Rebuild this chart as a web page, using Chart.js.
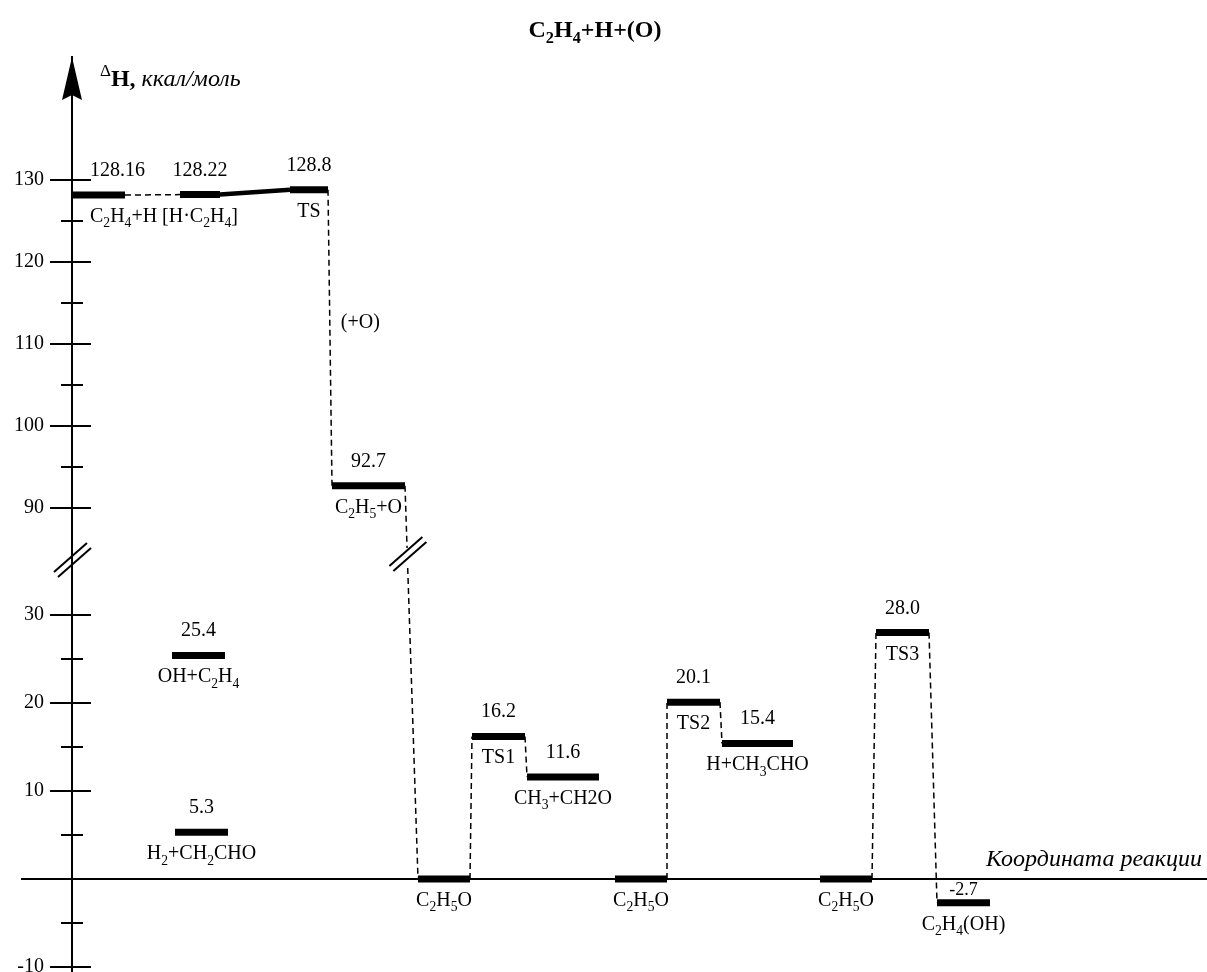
<!DOCTYPE html>
<html>
<head>
<meta charset="utf-8">
<title>C2H4+H+(O)</title>
<script src="https://cdn.jsdelivr.net/npm/chart.js@4/dist/chart.umd.min.js"></script>
<style>
  html, body { margin: 0; padding: 0; background: #fff; }
  canvas { display: block; }
</style>
</head>
<body>
<canvas id="diagram" width="1207" height="972"></canvas>
<script>
// Enthalpy levels along the C2H4 + H (+O) reaction path, kcal/mol.
// In the species names "_" puts the next character in subscript.
const levelNames = ['C_2H_4+H', '[H·C_2H_4]', 'TS', 'C_2H_5+O', 'C_2H_5O', 'TS1', 'CH_3+CH2O',
                    'C_2H_5O', 'TS2', 'H+CH_3CHO', 'C_2H_5O', 'TS3', 'C_2H_4(OH)', 'OH+C_2H_4', 'H_2+CH_2CHO'];
const levelEnergies = [128.16, 128.22, 128.8, 92.7, 0, 16.2, 11.6, 0, 20.1, 15.4, 0, 28.0, -2.7, 25.4, 5.3];
const levelValueText = ['128.16', '128.22', '128.8', '92.7', '', '16.2', '11.6', '', '20.1', '15.4', '', '28.0', '-2.7', '25.4', '5.3'];
// Extent of every level along the reaction coordinate (arbitrary units)
const levelStart = [0, 10.8, 21.8, 26.0, 34.6, 40.0, 45.5, 54.3, 59.5, 65.0, 74.8, 80.4, 86.5, 10.0, 10.3];
const levelEnd   = [5.3, 14.8, 25.6, 33.3, 39.8, 45.3, 52.7, 59.5, 64.8, 72.1, 80.0, 85.7, 91.8, 15.3, 15.6];

// Transitions between levels: from the end of one level to the start of the next
const pathFrom = [0, 1, 2, 3, 4, 5, 7, 8, 10, 11];
const pathTo   = [1, 2, 3, 4, 5, 6, 8, 9, 11, 12];
const pathKind = ['dash', 'solid', 'dash', 'dash', 'dash', 'dash', 'dash', 'dash', 'dash', 'dash'];
const pathNote = ['', '', '(+O)', '', '', '', '', '', '', ''];

// Broken enthalpy axis: an upper and a lower panel
const upperRange = [83.9, 145.0];
const lowerRange = [-10.57, 36.48];
const upperMajorTicks = [90, 100, 110, 120, 130];
const upperMinorTicks = [95, 105, 115, 125];
const lowerMajorTicks = [-10, 10, 20, 30];
const lowerMinorTicks = [-5, 5, 15, 25];
const reactionRange = [0, 113.5];

const titleText = 'C_2H_4+H+(O)';
const axisTitleParts = ['Δ', 'H,', ' ккал/моль'];
const reactionAxisText = 'Координата реакции';

const SERIF = '"Liberation Serif", "Times New Roman", serif';
const SUB_SCALE = 0.68;
const SUB_DROP = 0.26;

const panelOf = e => (e >= 60 ? 'yUp' : 'yLow');

function fontSpec(size, weight, style) {
  return (style || 'normal') + ' ' + (weight || 'normal') + ' ' + size + 'px ' + SERIF;
}

function parseRich(str) {
  const runs = [];
  for (let i = 0; i < str.length; i++) {
    if (str[i] === '_' && i + 1 < str.length) {
      runs.push({ t: str[i + 1], sub: true });
      i++;
    } else if (runs.length && !runs[runs.length - 1].sub) {
      runs[runs.length - 1].t += str[i];
    } else {
      runs.push({ t: str[i], sub: false });
    }
  }
  return runs;
}

function richWidth(ctx, str, o) {
  let w = 0;
  for (const r of parseRich(str)) {
    ctx.font = fontSpec(r.sub ? o.size * SUB_SCALE : o.size, o.weight, o.style);
    w += ctx.measureText(r.t).width;
  }
  return w;
}

function drawRich(ctx, str, x, y, o) {
  const w = richWidth(ctx, str, o);
  let cx = o.align === 'left' ? x : (o.align === 'right' ? x - w : x - w / 2);
  ctx.textAlign = 'left';
  ctx.textBaseline = o.baseline || 'alphabetic';
  ctx.fillStyle = '#000';
  for (const r of parseRich(str)) {
    const size = r.sub ? o.size * SUB_SCALE : o.size;
    ctx.font = fontSpec(size, o.weight, o.style);
    ctx.fillText(r.t, cx, r.sub ? y + o.size * SUB_DROP : y);
    cx += ctx.measureText(r.t).width;
  }
  return w;
}

function strokeLine(ctx, x1, y1, x2, y2) {
  ctx.beginPath();
  ctx.moveTo(x1, y1);
  ctx.lineTo(x2, y2);
  ctx.stroke();
}

// Double slash marking a break of the scale
function drawBreak(ctx, cx, cy) {
  ctx.save();
  ctx.setLineDash([]);
  ctx.lineWidth = 2;
  ctx.strokeStyle = '#000';
  strokeLine(ctx, cx - 18, cy + 12, cx + 15, cy - 17);
  strokeLine(ctx, cx - 14, cy + 17, cx + 19, cy - 12);
  ctx.restore();
}

function levelEndPx(chart, i, atEnd) {
  const xs = chart.scales.x;
  const ys = chart.scales[panelOf(levelEnergies[i])];
  return {
    x: xs.getPixelForValue(atEnd ? levelEnd[i] : levelStart[i]),
    y: ys.getPixelForValue(levelEnergies[i])
  };
}

const lerp = (a, b, u) => ({ x: a.x + (b.x - a.x) * u, y: a.y + (b.y - a.y) * u });

const diagramPlugin = {
  id: 'energyDiagram',
  beforeDatasetsDraw(chart) {
    const ctx = chart.ctx;
    const up = chart.scales.yUp;
    const low = chart.scales.yLow;
    ctx.save();
    ctx.strokeStyle = '#000';

    // reaction coordinate axis at ΔH = 0
    const y0 = low.getPixelForValue(0);
    ctx.lineWidth = 2;
    strokeLine(ctx, 21, y0, chart.width, y0);

    pathFrom.forEach((f, k) => {
      const t = pathTo[k];
      const a = levelEndPx(chart, f, true);
      const b = levelEndPx(chart, t, false);
      if (pathKind[k] === 'solid') {
        ctx.setLineDash([]);
        ctx.lineWidth = 4.5;
        ctx.lineCap = 'butt';
        strokeLine(ctx, a.x, a.y, b.x, b.y);
        return;
      }
      ctx.setLineDash([6, 4]);
      ctx.lineWidth = 1.5;
      if (panelOf(levelEnergies[f]) !== panelOf(levelEnergies[t])) {
        const by = up.bottom;
        const u = (by - a.y) / (b.y - a.y);
        const gap = 10 / (b.y - a.y);
        const p1 = lerp(a, b, u - gap);
        const p2 = lerp(a, b, u + gap);
        strokeLine(ctx, a.x, a.y, p1.x, p1.y);
        strokeLine(ctx, p2.x, p2.y, b.x, b.y);
        const m = lerp(a, b, u);
        drawBreak(ctx, m.x, m.y - 4);
      } else {
        strokeLine(ctx, a.x, a.y, b.x, b.y);
      }
    });
    ctx.restore();
  },
  afterDraw(chart) {
    const ctx = chart.ctx;
    const up = chart.scales.yUp;
    const low = chart.scales.yLow;
    const axisX = up.right;
    const top = chart.chartArea.top;
    ctx.save();
    ctx.strokeStyle = '#000';
    ctx.fillStyle = '#000';
    ctx.setLineDash([]);

    // tick marks crossing the enthalpy axis
    ctx.lineWidth = 2;
    const marks = (scale, values, left, right) => values.forEach(v => {
      const y = scale.getPixelForValue(v);
      strokeLine(ctx, axisX - left, y, axisX + right, y);
    });
    marks(up, upperMajorTicks, 22, 19);
    marks(low, lowerMajorTicks, 22, 19);
    marks(up, upperMinorTicks, 11, 11);
    marks(low, lowerMinorTicks, 11, 11);

    // arrow head on the enthalpy axis
    ctx.beginPath();
    ctx.moveTo(axisX, top);
    ctx.lineTo(axisX + 10, top + 43);
    ctx.lineTo(axisX, top + 38);
    ctx.lineTo(axisX - 10, top + 43);
    ctx.closePath();
    ctx.fill();

    // break of the enthalpy axis
    drawBreak(ctx, axisX, up.bottom + 2);

    // value and species labels of every level
    const y0 = low.getPixelForValue(0);
    const minLeft = axisX + 18;
    levelEnergies.forEach((e, i) => {
      const a = levelEndPx(chart, i, false);
      const b = levelEndPx(chart, i, true);
      const cx = (a.x + b.x) / 2;
      const barY = a.y;
      if (levelValueText[i]) {
        let size = 20;
        let base = barY - 19;
        if (base > y0 - 2 && base - 14 < y0 + 2) {
          size = 18;
          base = y0 + 16;
        }
        const w = richWidth(ctx, levelValueText[i], { size });
        drawRich(ctx, levelValueText[i], Math.max(cx, minLeft + w / 2), base, { size });
      }
      const wn = richWidth(ctx, levelNames[i], { size: 20 });
      drawRich(ctx, levelNames[i], Math.max(cx, minLeft + wn / 2), barY + 27, { size: 20 });
    });

    // notes beside the transitions
    pathFrom.forEach((f, k) => {
      if (!pathNote[k]) return;
      const p = lerp(levelEndPx(chart, f, true), levelEndPx(chart, pathTo[k], false), 0.45);
      drawRich(ctx, pathNote[k], p.x + 11, p.y, { size: 20, align: 'left', baseline: 'middle' });
    });

    // chart title
    drawRich(ctx, titleText, 595, 37, { size: 24, weight: 'bold' });

    // enthalpy axis title
    let tx = axisX + 28;
    ctx.textAlign = 'left';
    ctx.textBaseline = 'alphabetic';
    ctx.font = fontSpec(17);
    ctx.fillText(axisTitleParts[0], tx, 76);
    tx += ctx.measureText(axisTitleParts[0]).width;
    ctx.font = fontSpec(24, 'bold');
    ctx.fillText(axisTitleParts[1], tx, 86);
    tx += ctx.measureText(axisTitleParts[1]).width;
    ctx.font = fontSpec(24, 'normal', 'italic');
    ctx.fillText(axisTitleParts[2], tx, 86);

    // reaction coordinate title
    ctx.font = fontSpec(24, 'normal', 'italic');
    ctx.textAlign = 'right';
    ctx.fillText(reactionAxisText, 1202, y0 - 13);

    ctx.restore();
  }
};

const datasets = levelEnergies.map((e, i) => ({
  label: levelNames[i].replace(/_/g, ''),
  data: [{ x: levelStart[i], y: e }, { x: levelEnd[i], y: e }],
  xAxisID: 'x',
  yAxisID: panelOf(e),
  borderColor: '#000',
  borderWidth: 7,
  borderCapStyle: 'butt',
  pointRadius: 0,
  pointHoverRadius: 0,
  fill: false,
  tension: 0
}));

function enthalpyAxis(range, majorTicks, weight) {
  return {
    type: 'linear',
    position: 'left',
    stack: 'enthalpy',
    stackWeight: weight,
    min: range[0],
    max: range[1],
    grid: { display: false, drawTicks: false },
    border: { display: true, color: '#000', width: 2 },
    ticks: {
      autoSkip: false,
      padding: 28,
      color: '#000',
      font: { family: SERIF, size: 20 },
      callback: v => String(v)
    },
    afterBuildTicks: s => { s.ticks = majorTicks.map(v => ({ value: v })); },
    afterFit: s => {
      s.width = 72;
      s.paddingTop = 0;
      s.paddingBottom = 0;
    }
  };
}

new Chart(document.getElementById('diagram'), {
  type: 'line',
  data: { datasets },
  options: {
    responsive: false,
    animation: false,
    events: [],
    layout: { padding: { top: 57, left: 0, right: 0, bottom: 0 } },
    plugins: { legend: { display: false }, tooltip: { enabled: false }, title: { display: false } },
    scales: {
      // stacked axes are laid out bottom-up in key order: the lower panel comes first
      yLow: enthalpyAxis(lowerRange, lowerMajorTicks, 414),
      yUp: enthalpyAxis(upperRange, upperMajorTicks, 501),
      x: { type: 'linear', min: reactionRange[0], max: reactionRange[1], display: false }
    }
  },
  plugins: [diagramPlugin]
});
</script>
</body>
</html>
